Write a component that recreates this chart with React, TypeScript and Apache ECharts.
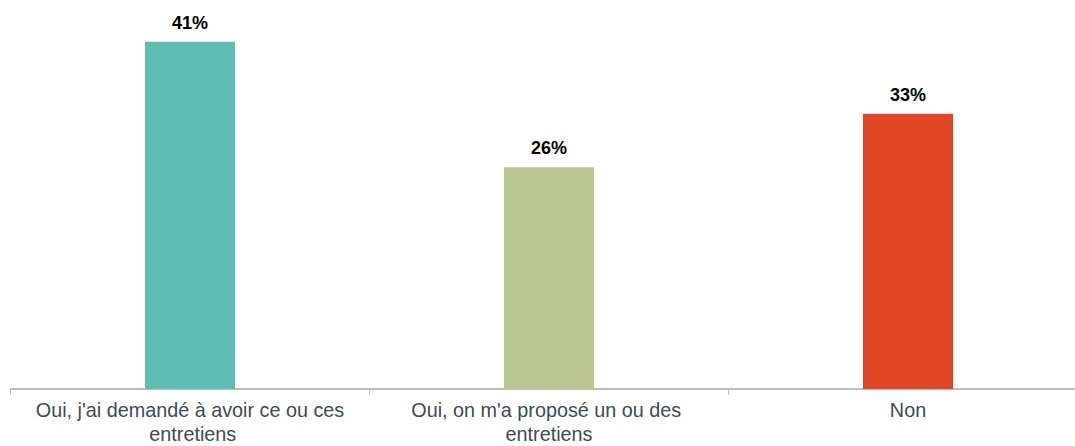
import React, { useEffect, useRef } from "react";
import * as echarts from "echarts";

const categories = [
  "Oui, j'ai demandé à avoir ce ou ces entretiens",
  "Oui, on m'a proposé un ou des entretiens",
  "Non",
];
const values = [41, 26.2, 32.5];
const colors = ["#5fbeb4", "#b9c690", "#e04626"];

export default function App() {
  const ref = useRef<HTMLDivElement>(null);
  useEffect(() => {
    if (!ref.current) return;
    const chart = echarts.init(ref.current, undefined, { renderer: "svg" });
    chart.setOption({
      animation: false,
      grid: { left: 10.5, width: 1077, top: 8, bottom: 53, containLabel: false },
      xAxis: {
        type: "category",
        data: categories,
        axisLine: { lineStyle: { color: "#bdbdbd", width: 2 } },
        axisTick: { show: true, length: 6, lineStyle: { color: "#bdbdbd" } },
        axisLabel: {
          color: "#3f4a52",
          fontSize: 19.8,
          fontFamily: "Liberation Sans, Arial, sans-serif",
          width: 330,
          overflow: "break",
          lineHeight: 24,
          margin: 9,
          interval: 0,
        },
      },
      yAxis: {
        type: "value",
        min: 0,
        max: 45,
        show: false,
        splitLine: { show: false },
      },
      series: [
        {
          type: "bar",
          barWidth: 90,
          data: values.map((v, i) => ({ value: v, itemStyle: { color: colors[i] } })),
          label: {
            show: true,
            position: "top",
            formatter: (p: any) => Math.round(p.value) + "%",
            color: "#000",
            fontWeight: "bold",
            fontSize: 18,
            fontFamily: "Liberation Sans, Arial, sans-serif",
            distance: 10,
          },
        },
      ],
    });
    return () => chart.dispose();
  }, []);
  return (
    <div
      ref={ref}
      style={{ position: "absolute", left: 0, top: 0, width: 1100, height: 446 }}
    />
  );
}
